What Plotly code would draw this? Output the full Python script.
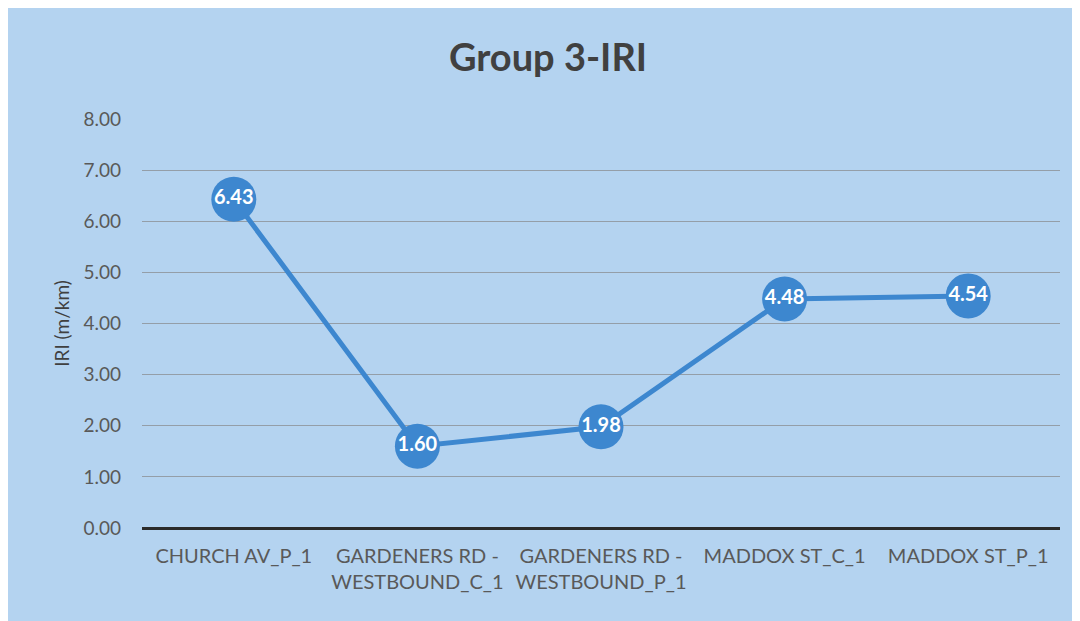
import plotly.graph_objects as go

categories = [
    "CHURCH AV_P_1",
    "GARDENERS RD -<br>WESTBOUND_C_1",
    "GARDENERS RD -<br>WESTBOUND_P_1",
    "MADDOX ST_C_1",
    "MADDOX ST_P_1",
]
iri = [6.43, 1.60, 1.98, 4.48, 4.54]
y_ticks = [0, 1, 2, 3, 4, 5, 6, 7, 8]

bg = "#b4d3f0"
blue = "#3d87cf"
text_grey = "#595959"
font_family = "Lato, 'Open Sans', sans-serif"

fig = go.Figure()

fig.add_trace(go.Scatter(
    x=categories, y=iri,
    mode="lines+markers+text",
    line=dict(color=blue, width=5),
    marker=dict(size=45, color=blue),
    text=["%.2f" % v for v in iri],
    textposition="middle center",
    textfont=dict(color="white", size=20, family=font_family, weight="bold"),
    hoverinfo="x+y",
    showlegend=False,
))

fig.update_layout(
    width=1080, height=621,
    paper_bgcolor=bg, plot_bgcolor=bg,
    margin=dict(l=134, r=28, t=111, b=101),
    title=dict(
        text="<b>Group 3-IRI</b>",
        x=0.5, xanchor="center", y=0.92, yanchor="middle",
        font=dict(size=38, color="#404040", family=font_family),
    ),
    font=dict(family=font_family, color=text_grey),
    xaxis=dict(
        type="category",
        range=[-0.5, 4.5],
        showgrid=False,
        showline=False,
        zeroline=False,
        tickfont=dict(size=20, color=text_grey),
        ticks="",
        ticklabelstandoff=14,
    ),
    yaxis=dict(
        range=[0, 8],
        tickvals=y_ticks,
        tickformat=".2f",
        showgrid=True,
        gridcolor="#949ea8",
        gridwidth=1,
        zeroline=True,
        zerolinecolor="#2b2b2b",
        zerolinewidth=3,
        tickfont=dict(size=19, color=text_grey),
        ticklabelstandoff=20,
        title=dict(text="IRI (m/km)", font=dict(size=19, color="#404040"), standoff=8),
    ),
)

fig.write_html("out.html")
